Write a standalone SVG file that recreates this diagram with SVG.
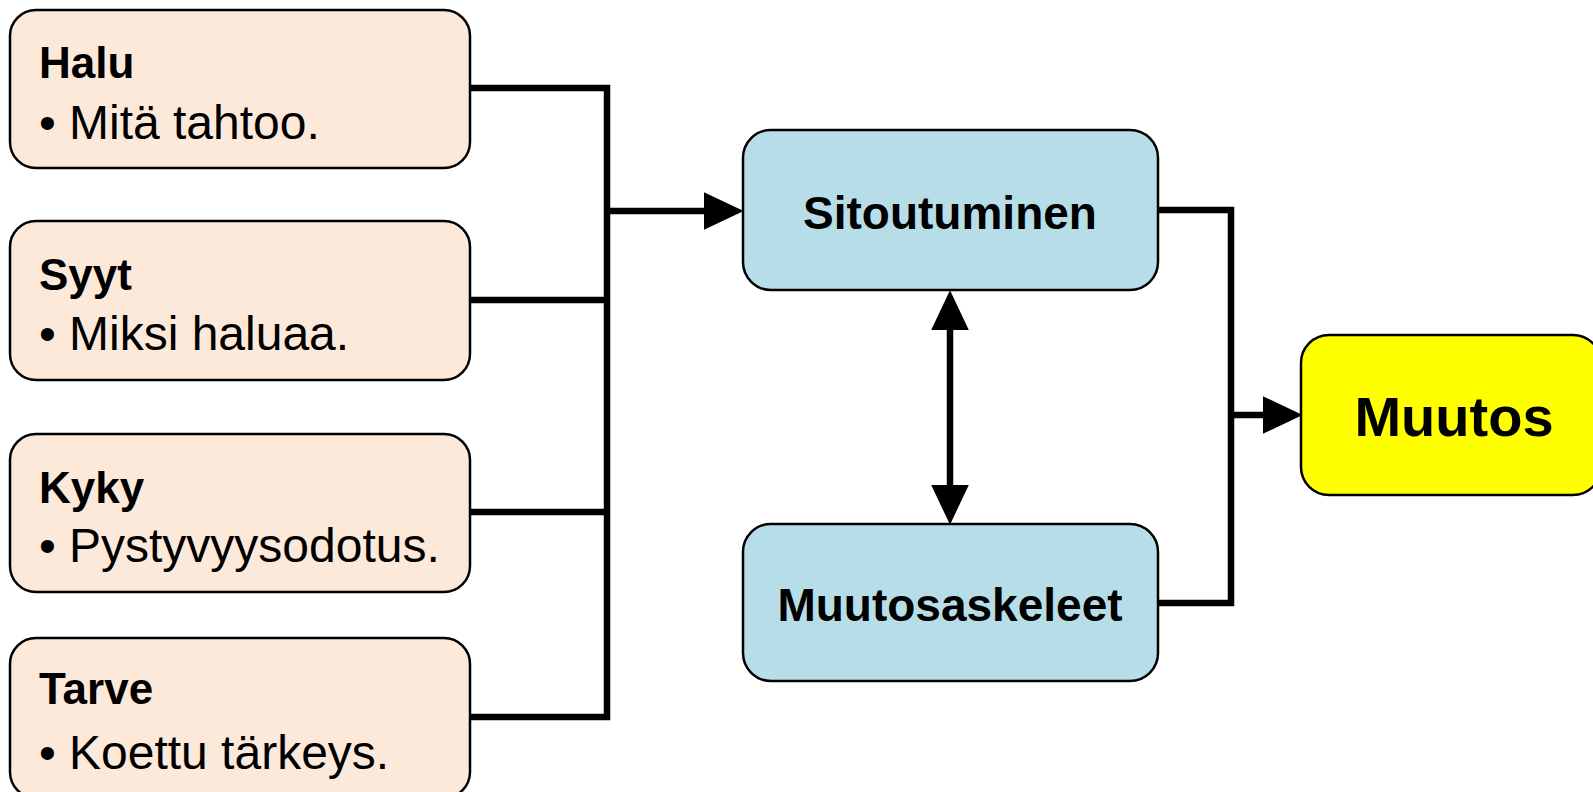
<svg xmlns="http://www.w3.org/2000/svg" width="1593" height="792" viewBox="0 0 1593 792">
<style>
.in{fill:#FDE9DA;stroke:#000;stroke-width:2.5}
.mid{fill:#B7DEE8;stroke:#000;stroke-width:2.5}
.out{fill:#FFFF00;stroke:#000;stroke-width:2.5}
.t{font-family:"Liberation Sans",Arial,sans-serif;fill:#000}
.h{font-weight:bold;font-size:44px}
.b{font-size:48px}
.c{font-weight:bold;font-size:46px;text-anchor:middle}
.conn{fill:none;stroke:#000;stroke-width:6.5;stroke-linejoin:miter}
</style>
<defs>
<marker id="ah" markerUnits="userSpaceOnUse" markerWidth="40" markerHeight="38" viewBox="0 0 38 36" refX="6" refY="18" orient="auto-start-reverse">
<path d="M0,0 L38,18 L0,36 z" fill="#000"/>
</marker>
</defs>
<g id="connectors">
<polyline class="conn" points="470,88 607,88 607,717 470,717"/>
<line class="conn" x1="470" y1="300" x2="607" y2="300"/>
<line class="conn" x1="470" y1="512" x2="607" y2="512"/>
<line class="conn" x1="607" y1="211" x2="710" y2="211" marker-end="url(#ah)"/>
<line class="conn" x1="950" y1="324" x2="950" y2="491" marker-start="url(#ah)" marker-end="url(#ah)"/>
<polyline class="conn" points="1158,210 1231,210 1231,603 1158,603"/>
<line class="conn" x1="1231" y1="415" x2="1269" y2="415" marker-end="url(#ah)"/>
</g>
<g id="halu">
<rect class="in" x="10" y="10" width="460" height="158" rx="26"/>
<text class="t h" x="39" y="78">Halu</text>
<text class="t b" y="139"><tspan x="39">•</tspan><tspan x="69">Mitä tahtoo.</tspan></text>
</g>
<g id="syyt">
<rect class="in" x="10" y="221" width="460" height="159" rx="26"/>
<text class="t h" x="39" y="290">Syyt</text>
<text class="t b" y="350"><tspan x="39">•</tspan><tspan x="69">Miksi haluaa.</tspan></text>
</g>
<g id="kyky">
<rect class="in" x="10" y="434" width="460" height="158" rx="26"/>
<text class="t h" x="39" y="503">Kyky</text>
<text class="t b" y="562"><tspan x="39">•</tspan><tspan x="69">Pystyvyysodotus.</tspan></text>
</g>
<g id="tarve">
<rect class="in" x="10" y="638" width="460" height="160" rx="26"/>
<text class="t h" x="39" y="704">Tarve</text>
<text class="t b" y="769"><tspan x="39">•</tspan><tspan x="69">Koettu tärkeys.</tspan></text>
</g>
<g id="sitoutuminen">
<rect class="mid" x="743" y="130" width="415" height="160" rx="28"/>
<text class="t c" x="950" y="229">Sitoutuminen</text>
</g>
<g id="muutosaskeleet">
<rect class="mid" x="743" y="524" width="415" height="157" rx="28"/>
<text class="t c" x="950" y="621">Muutosaskeleet</text>
</g>
<g id="muutos">
<rect class="out" x="1301" y="335" width="300" height="160" rx="28"/>
<text class="t c" x="1454" y="436" style="font-size:56px">Muutos</text>
</g>
</svg>
